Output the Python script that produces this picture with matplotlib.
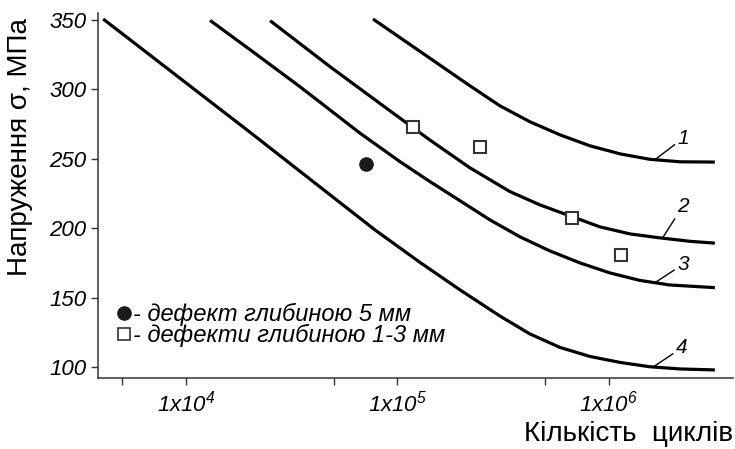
import numpy as np
import matplotlib
matplotlib.use("Agg")
import matplotlib.pyplot as plt
from matplotlib.ticker import NullLocator
from matplotlib.lines import Line2D

plt.rcParams['font.family'] = ['Liberation Sans', 'DejaVu Sans']
plt.rcParams['mathtext.fontset'] = 'custom'
plt.rcParams['mathtext.rm'] = 'Liberation Sans:italic'
plt.rcParams['mathtext.it'] = 'Liberation Sans:italic'

# curves: cycles N, stress MPa
n1 = [7.66e4, 2.20e5, 3.05e5, 4.23e5, 5.87e5, 8.13e5, 1.13e6, 1.56e6, 2.17e6, 3.17e6]
s1 = [350.5, 302.5, 288.1, 276.6, 267.2, 259.3, 253.5, 249.6, 247.8, 247.6]

n2 = [2.50e4, 4.80e4, 9.21e4, 1.42e5, 2.20e5, 3.40e5, 4.72e5, 6.54e5, 9.07e5, 1.26e6,
      1.74e6, 2.42e6, 3.17e6]
s2 = [349.3, 316.2, 284.5, 263.6, 243.5, 226.4, 216.8, 208.9, 201.0, 195.9,
      193.1, 190.6, 189.3]

n3 = [1.30e4, 2.01e4, 3.46e4, 6.65e4, 1.03e5, 1.42e5, 1.98e5, 2.74e5, 3.80e5, 5.26e5,
      7.29e5, 1.01e6, 1.40e6, 1.94e6, 3.17e6]
s3 = [349.5, 328.4, 301.8, 268.4, 247.8, 233.7, 219.7, 206.0, 193.8, 183.7,
      175.1, 167.9, 162.5, 159.2, 157.3]

n4 = [4.06e3, 2.01e4, 7.83e4, 1.28e5, 1.98e5, 3.05e5, 4.23e5, 5.87e5, 8.13e5, 1.13e6,
      1.56e6, 2.17e6, 3.17e6]
s4 = [350.5, 269.0, 198.8, 175.4, 155.6, 136.9, 124.0, 114.3, 107.8, 103.5,
      100.4, 98.8, 98.1]

curves = [(n1, s1), (n2, s2), (n3, s3), (n4, s4)]
curve_names = ["1", "2", "3", "4"]
label_n = [1.65e6, 1.79e6, 1.65e6, 1.62e6]

# test points
deep_n = [7.1e4]
deep_s = [246.3]
shallow_n = [1.19e5, 2.46e5, 6.67e5, 1.135e6]
shallow_s = [272.5, 258.1, 207.7, 180.8]

fig = plt.figure(figsize=(7.35, 4.49), dpi=100)
ax = fig.add_axes([0.1329, 0.1575, 0.864, 0.8135])

for n, s in curves:
    ax.plot(n, s, color='black', lw=2.3, solid_capstyle='butt', solid_joinstyle='round')

ax.plot(deep_n, deep_s, 'o', color='#1a1a1a', ms=9.5, ls='none')
ax.plot(shallow_n, shallow_s, 's', mfc='white', mec='#333333', mew=1.5, ms=8.5, ls='none')

offsets = [(20.4, 15.6), (14.6, 22.8), (20.2, 13.2), (20.4, 13.7)]
for (n, s), name, ln, off in zip(curves, curve_names, label_n, offsets):
    ys = np.interp(np.log10(ln), np.log10(n), s)
    ax.annotate(name, xy=(ln, ys), xytext=off, textcoords='offset points',
                ha='center', va='center', fontsize=15, fontstyle='italic',
                arrowprops=dict(arrowstyle='-', lw=1, color='black', shrinkA=0, shrinkB=1))

ax.set_xscale('log')
ax.set_xlim(3824, 3.85e6)
ax.set_ylim(92.1, 354.8)

ax.set_xticks([5e3, 1e4, 5e4, 1e5, 5e5, 1e6])
ax.set_xticklabels(['', '$1x10^4$', '', '$1x10^5$', '', '$1x10^6$'], fontsize=16)
ax.xaxis.set_minor_locator(NullLocator())
ax.set_yticks([100, 150, 200, 250, 300, 350])
ax.set_yticklabels(['100', '150', '200', '250', '300', '350'], fontsize=16, fontstyle='italic')

for side in ['top', 'right']:
    ax.spines[side].set_visible(False)
for side in ['left', 'bottom']:
    ax.spines[side].set_color('#333333')
    ax.spines[side].set_linewidth(1.1)
ax.tick_params(direction='out', length=5, width=1, color='#333333', pad=3)
ax.tick_params(axis='x', pad=4)

fig.text(0.997, 0.018, 'Кількість  циклів', ha='right', va='baseline', fontsize=20)
fig.text(0.027, 0.673, 'Напруження σ, МПа', rotation=90, ha='center', va='center', fontsize=20)

handles = [Line2D([], [], marker='o', color='#1a1a1a', ms=9.5, ls='none'),
           Line2D([], [], marker='s', mfc='white', mec='#333333', mew=1.2, ms=8, ls='none')]
ax.legend(handles, ['- дефект глибиною 5 мм', '- дефекти глибиною 1-3 мм'],
          loc='upper left', bbox_to_anchor=(0.03, 0.207), frameon=False,
          borderpad=0, borderaxespad=0, handlelength=0.6, handletextpad=0.1,
          labelspacing=-0.08, prop={'size': 17, 'style': 'italic'})

fig.savefig('out.png', dpi=100)
